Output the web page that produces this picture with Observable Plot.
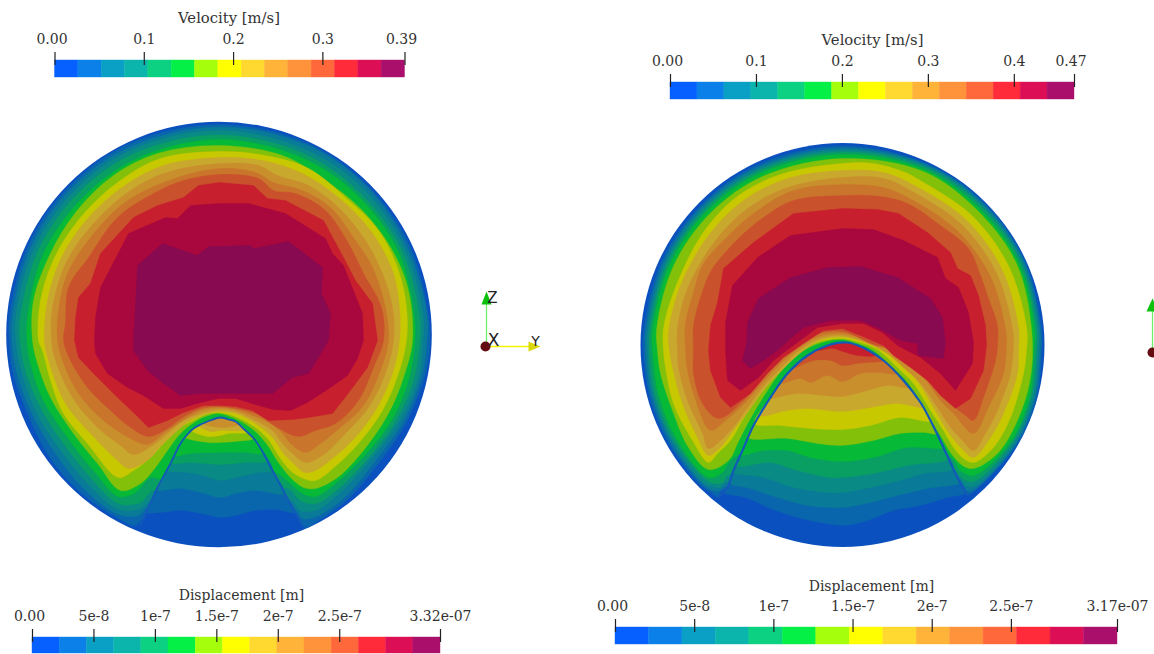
<!DOCTYPE html>
<html>
<head>
<meta charset="utf-8">
<script src="https://cdn.jsdelivr.net/npm/d3@7"></script>
<script src="https://cdn.jsdelivr.net/npm/@observablehq/plot@0.6"></script>
<style>
html,body{margin:0;padding:0;background:#fff}
#page{position:relative;width:1154px;height:654px;overflow:hidden}
#page svg{position:absolute;left:0;top:0;background:transparent}
</style>
</head>
<body>
<div id="page"></div>
<script>
// colour tables
const barColors = ["#0560ff","#0a80e8","#0a9fc4","#0bb5ab","#0cd182","#05f047","#a5ff0c","#ffff00","#ffd930","#ffb339","#ff933b","#ff683a","#ff2a3a","#dc0f56","#aa0f6b"];
const fieldColors = ["#0a50be","#0966ac","#097a98","#098a84","#099f62","#06b936","#82c00a","#c8c800","#c9a82e","#c98f2d","#c9762c","#c9522c","#c81f2e","#a8083e","#880a50"];

// colour bars
const velocityLeftTicks = [0,0.1,0.2,0.3,0.392];
const velocityLeftLabels = ["0.00","0.1","0.2","0.3","0.39"];
const velocityRightTicks = [0,0.1,0.2,0.3,0.4,0.47];
const velocityRightLabels = ["0.00","0.1","0.2","0.3","0.4","0.47"];
const dispLeftTicks = [0,5e-8,1e-7,1.5e-7,2e-7,2.5e-7,3.32e-7];
const dispLeftLabels = ["0.00","5e-8","1e-7","1.5e-7","2e-7","2.5e-7","3.32e-07"];
const dispRightTicks = [0,5e-8,1e-7,1.5e-7,2e-7,2.5e-7,3.17e-7];
const dispRightLabels = ["0.00","5e-8","1e-7","1.5e-7","2e-7","2.5e-7","3.17e-07"];

// pipe cross-sections
const discs = [{cx:218.5,cy:334,radius:212.8},{cx:842,cy:344.5,radius:202}];

// left section: contour outlines, level 1 to level 14
const leftContours = [
[[8.8,340],[8.8,316],[27.8,245],[69.7,185],[129.5,143],[218.5,124],[307.5,143],[367,185],[409,245],[428,316],[429,345],[425,373],[406,421.5],[382.5,457],[348,498],[318,520],[305,527],[298,520],[270,520],[170,520],[143,518],[135,525],[118,518],[80,492],[50,458],[27,413],[12,370]],
[[11.5,340],[11.8,316],[30.5,246],[71.8,187],[130.7,146],[218.5,126.5],[307,145],[366,186],[406.5,246],[426.7,316],[426,345],[422,373],[403.4,420.2],[379.3,454.6],[345,496],[316,516],[302,518],[295,510],[270,510],[170,510],[147,507],[138,515],[118,514],[83,488],[55,453],[30,410],[15,367]],
[[15.5,340],[15.3,316],[33.7,248],[74.3,190],[132,149],[218.5,130],[305,149],[363.5,189],[403.8,247.5],[422.7,316],[422,345],[418,377],[400.2,418.7],[376,452],[342,490],[315,510],[300,510],[291,500],[270,500],[170,500],[150,500],[140,508],[118,509],[87,483],[58,447],[35,410],[20,367]],
[[19.5,340],[19.8,317],[37.8,250],[77.5,193],[134,153],[218.5,134.5],[303,153],[360,193],[400.7,249],[419,316],[419,345],[413,380],[397,417.3],[373.7,450.4],[338,488],[315,503],[300,500],[288,488],[270,490],[170,490],[152,490],[140,502],[118,503],[90,477],[63,443],[40,407],[25,370]],
[[26.5,340],[27,317],[43,253],[82,197.5],[136.5,158],[218.5,139],[301,157],[357,195],[397.5,250.5],[414,317],[414,345],[408,380],[393.4,415.6],[370.5,448],[335,483],[315,496],[302,493],[290,483],[270,470],[165,480],[150,477],[135,492],[118,496],[93,470],[67,437],[43,400],[30,363]],
[[32,340],[33,300],[49,255],[75,212],[113,175],[157,153],[218.5,145],[282,155],[325,180],[362,210],[392,250],[408,290],[412,340],[403,377],[388,413],[363,450],[337,477],[315,488],[303,487],[290,477],[278,462],[265,442],[250,427],[232,417],[218,413],[205,416],[195,421],[180,433],[167,450],[155,467],[140,483],[120,490],[97,463],[73,433],[50,397],[37,363]],
[[38,340],[40,300],[54,257],[80,217],[117,182],[160,158],[218.5,151],[265,155],[308,168],[345,197],[378,230],[398,270],[406,307],[406,340],[398,373],[382,410],[358,443],[338,463],[315,480],[303,478],[290,470],[278,455],[267,438],[252,425],[232,415],[218,412],[205,414],[193,420],[178,428],[163,443],[150,457],[133,470],[118,477],[87,443],[63,413],[50,380],[42,350]],
[[44,340],[47,300],[59.5,260],[83,223],[120,188],[163,165],[218.5,157],[262,160],[302,173],[338,197],[370,230],[392,270],[399,307],[399,340],[392,373],[375,410],[352,440],[332,458],[315,470],[304,472],[293,463],[283,453],[272,437],[255,423],[235,413],[218,411],[207,413],[190,420],[177,430],[160,446],[147,460],[128,468],[117,460],[90,433],[65,403],[48,360]],
[[51,340],[52,307],[65.4,262.5],[87,230],[123,195],[163,173],[218.5,163],[258,165],[277,175],[308,185],[338,207],[365,240],[382,273],[392,307],[393,340],[385,373],[368,407],[345,433],[322,455],[305,462],[292,453],[282,443],[272,430],[255,420],[235,411],[218,409],[200,413],[182,421],[167,433],[152,445],[133,454],[120,445],[97,427],[72,397],[55,360]],
[[57,340],[58,310],[67,273],[90,237],[123,203],[163,182],[218.5,168],[255,172],[273,182],[302,190],[330,207],[355,240],[372,267],[385,307],[388,340],[380,370],[363,405],[340,427],[320,443],[305,452],[290,443],[282,433],[270,423],[252,415],[235,409],[218,407],[200,410],[182,420],[163,433],[147,444],[130,438],[103,420],[78,393],[62,360]],
[[63,340],[65,323],[68,287],[88,257],[117,217],[153,193],[183,180],[218.5,174],[258,178],[273,190],[295,193],[325,210],[348,243],[363,273],[381,307],[383,340],[373,367],[358,400],[335,423],[315,430],[298,436],[277,427],[255,413],[235,408],[218,406],[200,408],[182,417],[167,428],[148,436],[130,427],[110,410],[87,387],[70,360]],
[[74,340],[75,317],[78,297],[90,283],[100,253],[133,217],[157,205],[183,197],[198,185],[218.5,182],[253,185],[267,198],[285,200],[323,220],[343,257],[355,280],[372,303],[377,340],[367,367],[350,390],[332,413],[308,417],[293,419],[268,420],[252,410],[235,406],[218,405],[203,405],[183,412],[167,420],[148,427],[133,412],[117,397],[93,373],[78,357]],
[[94,340],[95,317],[100,287],[128,233],[165,217],[177,218],[190,205],[218.5,203],[248,203],[285,213],[325,238],[332,253],[343,265],[362,313],[363,340],[357,358],[347,375],[330,387],[307,402],[290,410],[273,409],[258,405],[235,398],[218,398],[200,402],[180,408],[163,408],[143,395],[127,387],[107,373],[95,353]],
[[133,340],[137,265],[162,243],[197,255],[208,246],[250,245],[253,248],[288,241],[322,267],[321,293],[330,313],[328,340],[318,357],[308,373],[292,377],[272,393],[220,393],[200,393],[180,395],[163,383],[147,370],[133,350]]
];
const leftSheet = [[140,525],[148,507],[157,487],[170,463],[180,443],[186,435],[193,428],[200,424],[207,421],[220,417],[228,419],[235,421],[245,430],[255,440],[272,470],[288,500],[302,525]];
const leftSheetFloor = [[262,534],[218,538],[178,534]];
// left section: contours below the sheet, level 1 upward
const leftBands = [
[[149,512],[160,512],[180,510],[200,513],[220,517],[235,515],[255,510],[275,509],[293,512]],
[[155,490],[180,488],[200,492],[220,497],[235,493],[255,490],[285,493]],
[[165,470],[187,472],[203,475],[220,480],[235,477],[258,472],[272,470]],
[[168,462],[190,462],[220,464],[245,462],[265,460]],
[[172,455],[190,453],[220,452],[245,452],[264,453]],
[[190,437],[207,442],[220,442],[235,441],[250,438]],
[[195,430],[207,436],[220,435],[228,433],[245,432]],
[[200,425],[210,431],[220,430],[240,429]],
[[205,423],[220,427],[235,424]]
];

// right section: contour outlines, level 1 to level 14
const rightContours = [
[[643,350],[643.8,327],[661.7,260],[701.3,204],[757.8,164],[842,145.5],[927,163.5],[984,202.5],[1024,259.5],[1041,328],[1041,355],[1036.2,396.6],[1016,445],[972,492],[966,495],[963,490],[930,490],[750,490],[722,490],[717,497],[712,493],[701,485.5],[669,444],[649.3,396]],
[[645,350],[645.8,327.4],[663.5,261],[702.7,205],[758.7,166],[842,147.5],[926.5,164.5],[983,203.5],[1023,260],[1039.5,328],[1039.5,355],[1034.7,396.2],[1014.8,444.2],[972,490],[965,490],[961,485],[930,485],[750,485],[723,487],[718,491],[712,490],[702.4,484],[671,443],[651.2,395.6]],
[[647,350],[647.8,327.5],[665.3,262],[704,206.6],[759.5,167.8],[842,149.5],[926,165.5],[982,204.5],[1021.5,260.5],[1038,328],[1037.5,355],[1033.3,395.8],[1013.5,443.5],[973,486],[965,485],[958,478],[930,478],[750,478],[725,482],[720,487],[712,486],[703.8,482.7],[672.7,442],[653,395]],
[[649,350],[649.8,327.7],[667.1,262.9],[705.5,208],[760.4,169.6],[842,151.5],[925,167],[981,206],[1020,261],[1036,328],[1035.5,355],[1031.3,395.3],[1011.7,442.5],[973,481],[962,478],[955,470],[930,470],[750,470],[727,475],[722,482],[710,482],[674.4,441],[655,394.6]],
[[652,350],[652.2,328],[669.4,264],[707.3,209.8],[761.5,172],[842,154],[924,169],[979,208],[1018,262],[1034,328],[1033,355],[1029.4,394.7],[1010,441.5],[973,475],[960,470],[952,458],[930,450],[750,450],[730,460],[722,472],[708,477],[677,440],[658,394]],
[[657,350],[656.2,328],[673,265.6],[710,212.6],[763,175.5],[842,158],[923,171],[977,210],[1016,263],[1031,328],[1030,377],[1017,420],[997,453],[973,468],[962,465],[950,452],[940,435],[925,412],[908,383],[890,365],[873,350],[860,344],[842,339],[825,341],[803,350],[783,368],[765,393],[750,418],[738,441],[728,460],[708,469],[688,447],[672,410],[660,373]],
[[663,350],[663,328],[673,292],[702,233],[738,195],[783,173],[842,163],[873,163],[905,172],[919,179.6],[971.4,215.1],[1008.7,266.7],[1026.3,328.4],[1026,350],[1023,373],[1010,417],[993,447],[973,462],[963,458],[953,447],[943,430],[930,410],[913,383],[897,367],[877,349],[860,342],[842,338],[823,340],[800,350],[777,373],[760,393],[743,418],[730,440],[717,453],[708,462],[692,440],[673,403],[665,367]],
[[669,350],[668,332],[680,285],[708,235],[743,200],[787,178],[842,170],[883,172],[916,186],[966.4,220],[1002,270],[1018.3,329],[1018,350],[1017,373],[1003,413],[990,437],[973,457],[963,450],[948,432],[933,407],[918,382],[900,362],[880,346],[860,340],[842,336.5],[822,339],[803,350],[783,368],[763,390],[747,412],[733,430],[720,447],[708,455],[697,437],[682,403],[672,367]],
[[677,350],[677,328],[687,288],[715,240],[747,208],[787,187],[842,177],[883,178],[913.3,191.8],[961.8,224.7],[996,272.6],[1012.3,329.6],[1013,345],[1010,373],[997,410],[985,433],[973,450],[962,440],[950,427],[937,407],[920,383],[903,367],[887,353],[870,344],[842,335],[820,338],[800,349],[780,368],[762,387],[745,410],[730,430],[708,448],[702,433],[687,400],[678,367]],
[[685,350],[685,322],[693,292],[702,265],[728,235],[757,210],[793,190],[842,184],[883,187],[910,198.6],[956.5,230],[989.7,275.6],[1005.4,330],[1006,345],[1003,373],[988,407],[973,433],[953,413],[940,400],[923,377],[907,362],[890,350],[873,342],[842,333],[818,336],[795,350],[775,368],[757,388],[742,405],[725,420],[710,430],[693,393],[687,370]],
[[693,350],[693,325],[703,288],[712,268],[738,238],[763,217],[793,200],[842,195],[880,196],[907,203],[940,225],[968,248],[980,275],[988,298],[997,325],[997,345],[995,360],[983,397],[973,420],[965,415],[950,403],[937,390],[920,373],[903,358],[887,348],[873,344],[842,331],[815,334],[795,347],[775,363],[758,383],[740,403],[718,418],[702,403],[693,373]],
[[708,350],[710,325],[717,302],[723,268],[753,242],[793,213],[842,208],[877,209],[898,213],[927,232],[950,252],[957,268],[970,275],[978,295],[985,325],[986,345],[983,370],[970,398],[955,408],[940,395],[927,380],[910,367],[893,355],[883,345],[860,335],[842,328],[823,330],[803,343],[783,357],[767,373],[750,393],[730,407],[720,397],[710,370]],
[[725,350],[725,322],[732,285],[757,257],[790,235],[842,228],[873,229],[903,240],[937,257],[945,278],[958,287],[968,312],[973,342],[972,363],[955,390],[940,373],[920,357],[897,345],[882,332],[863,323],[842,323],[817,327],[790,347],[773,360],[758,377],[740,390],[727,380]],
[[746,350],[747,322],[758,298],[790,277],[827,267],[860,266],[897,277],[930,298],[942,317],[945,342],[943,358],[918,355],[917,343],[900,340],[877,327],[860,320],[830,320],[803,327],[790,338],[777,350],[763,360],[750,368],[742,360],[747,338]]
];
const rightSheet = [[718,497],[727,487],[733,470],[742,450],[753,425],[770,397],[787,373],[807,355],[827,345],[845,342],[860,346],[883,360],[903,380],[920,402],[930,420],[943,447],[957,477],[967,495]];
const rightSheetFloor = [[940,508],[842,514],[745,508]];
// right section: contours below the sheet, level 1 upward
const rightBands = [
[[727,492],[745,497],[770,508],[797,517],[820,522],[845,525],[867,520],[893,510],[920,505],[947,497],[963,492]],
[[732,482],[750,488],[777,497],[807,505],[842,507],[870,502],[897,495],[927,488],[955,482]],
[[737,472],[763,477],[793,487],[827,492],[842,492],[870,487],[900,480],[923,473],[952,468]],
[[740,465],[770,462],[797,470],[830,477],[842,477],[873,473],[907,465],[948,458]],
[[742,455],[763,450],[787,450],[810,457],[842,461],[873,457],[907,447],[943,448]],
[[758,437],[787,438],[817,443],[842,445],[873,440],[900,433],[923,432],[932,433]],
[[757,423],[780,425],[810,428],[842,429],[870,425],[900,417],[927,420]],
[[763,415],[787,410],[807,408],[842,411],[870,407],[897,403],[917,407]],
[[773,398],[797,393],[823,395],[842,396],[867,390],[887,385],[907,387]],
[[783,383],[800,378],[810,382],[827,375],[842,381],[860,373],[877,372],[895,373]],
[[797,368],[813,360],[830,360],[842,365],[857,363],[867,362],[882,360]],
[[820,350],[833,348],[842,351],[857,355],[868,355]]
];

// orientation triad
const triadAxes = [
  {x1:486,y1:345,x2:486,y2:296,color:"#6cf06c"},
  {x1:486,y1:346,x2:530,y2:346,color:"#f4f400"},
  {x1:1152,y1:352,x2:1152,y2:304,color:"#6cf06c"}
];
const triadCones = [
  {color:"#0cc00c",pts:[[486,291],[481,304],[491,304]]},
  {color:"#d8d80c",pts:[[540,346],[528,341],[528,351]]},
  {color:"#0cc00c",pts:[[1152,298],[1146,311],[1158,311]]}
];
const triadOrigins = [[485,346],[1152,352]];
const triadLetters = [{t:"Z",x:492,y:298,s:15},{t:"X",x:493,y:340,s:17},{t:"Y",x:535,y:341,s:14}];

// ------------------------------------------------------------------
const W = 1154, H = 654;
const page = document.getElementById("page");
const px = d => d[0], py = d => d[1];

function contourMarks(list, smoothUpTo){
  return list.map((pts,i) => Plot.line(pts,{x:px,y:py,fill:fieldColors[i+1],stroke:fieldColors[i+1],strokeWidth:0.4,
    curve:i < smoothUpTo ? "catmull-rom-closed" : "linear-closed"}));
}
function sheetX(sheet, y, side){
  const apex = d3.least(sheet,d=>d[1]);
  const seg = sheet.filter(d => side<0 ? d[0]<=apex[0] : d[0]>=apex[0]).sort((a,b)=>a[1]-b[1]);
  for (let i=0;i<seg.length-1;i++){
    if (y>=seg[i][1] && y<=seg[i+1][1]){
      const t=(y-seg[i][1])/(seg[i+1][1]-seg[i][1]);
      return seg[i][0]+t*(seg[i+1][0]-seg[i][0]);
    }
  }
  return seg[0][0];
}
function bandMarks(sheet, floor, bands, lineWidth){
  const apex = d3.least(sheet,d=>d[1]);
  const marks = [Plot.line([...sheet,...floor],{x:px,y:py,fill:fieldColors[0],curve:"linear-closed"})];
  bands.forEach((line,i)=>{
    const a=line[0], b=line[line.length-1];
    const pts=[[sheetX(sheet,a[1],-1),a[1]],...line.slice(1,-1),[sheetX(sheet,b[1],1),b[1]]];
    const over=sheet.slice().reverse().filter(d=>d[0]>=apex[0]? d[1]<b[1] : d[1]<a[1]);
    marks.push(Plot.line([...pts,...over],{x:px,y:py,fill:fieldColors[i+1],stroke:fieldColors[i+1],strokeWidth:0.3,curve:"catmull-rom-closed"}));
  });
  marks.push(Plot.line(sheet,{x:px,y:py,stroke:"#1259b8",strokeWidth:lineWidth,curve:"catmull-rom"}));
  return marks;
}

const fieldPlot = Plot.plot({
  width:W,height:H,margin:0,
  x:{domain:[0,W],axis:null},y:{domain:[H,0],axis:null},
  marks:[
    ...discs.map(d=>Plot.dot([d],{x:"cx",y:"cy",r:d.radius,fill:fieldColors[0]})),
    ...contourMarks(leftContours,11),
    ...bandMarks(leftSheet,leftSheetFloor,leftBands,1.8),
    ...contourMarks(rightContours,11),
    ...bandMarks(rightSheet,rightSheetFloor,rightBands,2.2),
    Plot.link(triadAxes,{x1:"x1",y1:"y1",x2:"x2",y2:"y2",stroke:"color",strokeWidth:1.3}),
    ...triadCones.map(c=>Plot.line(c.pts,{x:px,y:py,fill:c.color,curve:"linear-closed"})),
    Plot.dot(triadOrigins,{x:px,y:py,r:5,fill:"#640c10"}),
    ...triadLetters.map(l=>Plot.text([l],{x:"x",y:"y",text:"t",fontFamily:"DejaVu Sans",fontSize:l.s,fill:"#222"}))
  ]
});
page.appendChild(fieldPlot);

function colorBar({title,titleSize,left,right,top,bottom,max,ticks,labels,titleDx,lastDx,titleDy}){
  const cells = barColors.map((c,i)=>({a:i*max/15,b:(i+1)*max/15,c}));
  const rows = ticks.map((v,i)=>({v,l:labels[i]}));
  const font = {fontFamily:"DejaVu Serif",fontSize:14,fill:"#333"};
  const last = rows.length-1;
  return Plot.plot({
    width:W,height:H,
    marginLeft:left,marginRight:W-right,marginTop:top,marginBottom:H-bottom,
    x:{domain:[0,max],axis:null},
    color:{type:"identity"},
    marks:[
      Plot.rectX(cells,{x1:"a",x2:"b",fill:"c",stroke:"c",strokeWidth:0.4}),
      Plot.axisX({anchor:"top",ticks,tickSize:13,tickFormat:()=>"",stroke:"#222",strokeWidth:1.2,dy:4}),
      Plot.text(rows.filter((d,i)=>i>0&&i<last),{x:"v",text:"l",frameAnchor:"top",dy:-26,...font}),
      Plot.text(rows.filter((d,i)=>i===0),{x:"v",text:"l",frameAnchor:"top",dy:-26,dx:-3,...font}),
      Plot.text(rows.filter((d,i)=>i===last),{x:"v",text:"l",frameAnchor:"top",dy:-26,dx:lastDx,...font}),
      Plot.text([title],{frameAnchor:"top",dy:titleDy,dx:titleDx,...font,fontSize:titleSize})
    ]
  });
}
[
  {title:"Velocity [m/s]",titleSize:14.8,left:54.5,right:404.5,top:60,bottom:77,max:0.392,ticks:velocityLeftTicks,labels:velocityLeftLabels,titleDx:-1,lastDx:-3.5,titleDy:-48},
  {title:"Velocity [m/s]",titleSize:14.8,left:670,right:1074,top:82,bottom:99,max:0.47,ticks:velocityRightTicks,labels:velocityRightLabels,titleDx:0,lastDx:-3.5,titleDy:-48},
  {title:"Displacement [m]",titleSize:14,left:32,right:440,top:637,bottom:653,max:3.32e-7,ticks:dispLeftTicks,labels:dispLeftLabels,titleDx:5,lastDx:0,titleDy:-47},
  {title:"Displacement [m]",titleSize:14,left:615,right:1117,top:627,bottom:644,max:3.17e-7,ticks:dispRightTicks,labels:dispRightLabels,titleDx:5,lastDx:0,titleDy:-46.5}
].forEach(b=>page.appendChild(colorBar(b)));
</script>
</body>
</html>
